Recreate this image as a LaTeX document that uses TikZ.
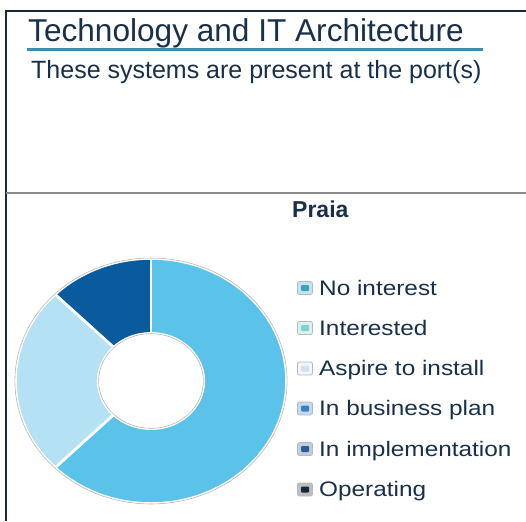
\documentclass[tikz,border=0pt]{standalone}
\usepackage{fontspec}
\setmainfont{Liberation Sans}
\definecolor{framec}{HTML}{1C2A3A}
\definecolor{navy}{HTML}{18304A}
\definecolor{uline}{HTML}{3B8BB5}
\definecolor{sepgray}{HTML}{8A8A8A}
\definecolor{bigc}{HTML}{5BC3EA}
\definecolor{palec}{HTML}{B5E1F5}
\definecolor{darkc}{HTML}{0A5A9E}
\definecolor{cnoint}{HTML}{3AA5B8}
\definecolor{cinter}{HTML}{7FD3C9}
\definecolor{caspire}{HTML}{CFE0EF}
\definecolor{cbiz}{HTML}{3E7FC4}
\definecolor{cimpl}{HTML}{2D5D94}
\definecolor{coper}{HTML}{1B2733}
\tikzset{
  legtext/.style={anchor=base west, inner sep=0pt, text=navy, font=\fontsize{21}{21}\selectfont},
  legbox/.style={draw=gray!55, line width=0.8pt, rounded corners=2pt, minimum width=15pt, minimum height=13pt, inner sep=0pt},
}
\newcommand{\legmark}[3]{%
  \node[legbox, fill=#2!30] (#1) at (#3) {};
  \fill[#2, rounded corners=1pt] ([xshift=-4pt,yshift=-3pt]#1.center) rectangle ([xshift=4pt,yshift=3pt]#1.center);
}
\begin{document}
\begin{tikzpicture}[x=1pt,y=-1pt]
\useasboundingbox (0,0) rectangle (526,521);
% frame
\coordinate (ftr) at (526,11);
\coordinate (ftl) at (6,11);
\coordinate (fbl) at (6,521);
\draw[framec, line width=2.2pt] (ftr) -- (ftl) -- (fbl);
\coordinate (gl) at (6,193);
\coordinate (gr) at (526,193);
\draw[sepgray, line width=2pt] (gl) -- (gr);
% title
\node[anchor=base west, inner sep=0pt, text=navy, font=\fontsize{31.6}{31.6}\selectfont] (title) at (28,42) {Technology and IT Architecture};
\coordinate (ul) at (27,50);
\coordinate (ur) at (483,50);
\draw[uline, line width=3pt] (ul) -- (ur);
\node[anchor=base west, inner sep=0pt, text=navy, font=\fontsize{25}{25}\selectfont] (sub) at (31,79) {These systems are present at the port(s)};
\node[anchor=base west, inner sep=0pt, text=navy, font=\fontsize{23}{23}\selectfont\bfseries] (praia) at (292,217) {Praia};
% donut
\begin{scope}[shift={(151,381)}, x=135pt, y=122pt]
  \fill[bigc] (90:1) arc[start angle=90, end angle=-135, radius=1] -- (-135:0.395) arc[start angle=-135, end angle=90, radius=0.395] -- cycle;
  \fill[palec] (225:1) arc[start angle=225, end angle=135, radius=1] -- (135:0.395) arc[start angle=135, end angle=225, radius=0.395] -- cycle;
  \fill[darkc] (135:1) arc[start angle=135, end angle=90, radius=1] -- (90:0.395) arc[start angle=90, end angle=135, radius=0.395] -- cycle;
  \foreach \a in {90,135,225} \draw[white, line width=2.8pt] (\a:0.38) -- (\a:1.02);
  \draw[white, line width=1.5pt] (0,0) circle[radius=1];
  \draw[white, line width=1.5pt] (0,0) circle[radius=0.395];
  \draw[gray!55, line width=0.6pt] (0,0) circle[radius=1.008];
  \draw[gray!55, line width=0.6pt] (0,0) circle[radius=0.388];
\end{scope}
% legend
\legmark{m1}{cnoint}{305,288}
\node[legtext] (l1) at (319,295) {\scalebox{1.16}[1]{No interest}};
\legmark{m2}{cinter}{305,328}
\node[legtext] (l2) at (319,335) {\scalebox{1.16}[1]{Interested}};
\legmark{m3}{caspire}{305,368.5}
\node[legtext] (l3) at (319,375.5) {\scalebox{1.16}[1]{Aspire to install}};
\legmark{m4}{cbiz}{305,408.5}
\node[legtext] (l4) at (319,415.5) {\scalebox{1.16}[1]{In business plan}};
\legmark{m5}{cimpl}{305,449}
\node[legtext] (l5) at (319,456) {\scalebox{1.16}[1]{In implementation}};
\legmark{m6}{coper}{305,489.5}
\node[legtext] (l6) at (319,496.5) {\scalebox{1.16}[1]{Operating}};
\end{tikzpicture}
\end{document}
